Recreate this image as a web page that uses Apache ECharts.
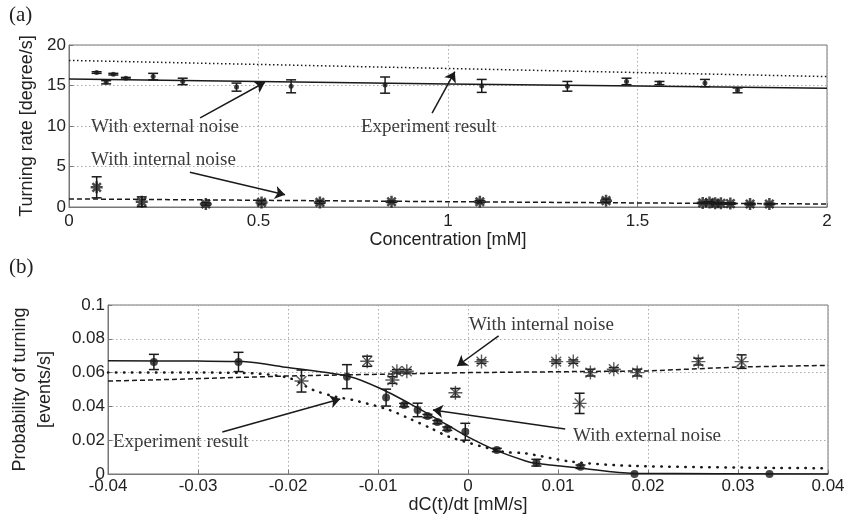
<!DOCTYPE html>
<html>
<head>
<meta charset="utf-8">
<script src="https://cdn.jsdelivr.net/npm/echarts@6/dist/echarts.min.js"></script>
<style>
html,body{margin:0;padding:0;background:#fff;}
#chart{width:858px;height:516px;}
</style>
</head>
<body>
<div id="chart"></div>
<script>

/* =================================
   panel (a) data
================================= */

// fitted / model lines
const aLineX=[0,0.5,1,1.5,2];
const aExpLine=[18.1,17.6,17.1,16.6,16.1];
const aExtLine=[15.8,15.5,15.2,14.95,14.65];
const aIntLine=[1.0,0.83,0.66,0.5,0.37];

// points with external noise
const aExtX=[0.073,0.098,0.117,0.150,0.222,0.300,0.442,0.586,0.834,1.089,1.315,1.471,1.558,1.678,1.764];
const aExtY=[16.6,15.4,16.4,15.9,16.1,15.5,14.8,14.9,15.05,14.95,14.9,15.5,15.3,15.3,14.4];
const aExtErr=[0.1,0.2,0.1,0.1,0.4,0.4,0.5,0.8,1.0,0.8,0.6,0.4,0.2,0.45,0.3];

// points with internal noise
const aIntX=[0.073,0.192,0.361,0.508,0.662,0.851,1.084,1.417,1.672,1.690,1.705,1.720,1.745,1.797,1.848];
const aIntY=[2.43,0.65,0.37,0.57,0.57,0.65,0.65,0.78,0.5,0.55,0.45,0.45,0.42,0.37,0.37];
const aIntErr=[1.3,0.6,0.15,0.2,0.15,0.1,0.15,0.2,0.1,0.1,0.1,0.1,0.1,0.1,0.1];


/* =================================
   panel (b) data
================================= */

const bExtLineX=[-0.04,-0.03,-0.025,-0.02,-0.0131,-0.0095,-0.0059,-0.0023,0,0.0032,0.0064,0.0075,0.0126,0.0184,0.04];
const bExtLineY=[0.067,0.0668,0.0665,0.063,0.0576,0.050,0.040,0.029,0.022,0.0138,0.0077,0.0063,0.0034,0.0004,0];

const bExpLineX=[-0.04,-0.03,-0.025,-0.02,-0.0172,-0.0146,-0.0128,-0.0088,-0.0066,-0.0041,-0.0021,0.0039,0.0064,0.0115,0.0187,0.04];
const bExpLineY=[0.060,0.060,0.0598,0.057,0.0497,0.0456,0.0438,0.038,0.033,0.027,0.022,0.0132,0.0122,0.0073,0.0047,0.0034];

const bIntLineX=[-0.04,-0.036,-0.02,-0.01,0,0.02,0.03,0.04];
const bIntLineY=[0.055,0.0555,0.058,0.059,0.060,0.061,0.0633,0.0643];

// experiment points
const bExpX=[-0.0349,-0.0255,-0.01345,-0.0091,-0.0071,-0.0056,-0.0045,-0.0034,-0.0023,-0.0003,0.0032,0.0076,0.0125,0.0185,0.0335];
const bExpY=[0.0663,0.0663,0.0576,0.0452,0.0408,0.0379,0.0343,0.0307,0.0268,0.025,0.0142,0.0067,0.0043,0,0];
const bExpErr=[0.0045,0.0057,0.0071,0.005,0.001,0.004,0.001,0.001,0.001,0.005,0.001,0.002,0.001,0,0];

// internal noise points
const bIntX=[-0.0185,-0.0112,-0.0084,-0.0079,-0.0068,-0.0014,0.0015,0.0098,0.0117,0.0124,0.0136,0.0162,0.0188,0.0256,0.0304];
const bIntY=[0.055,0.0667,0.0556,0.0608,0.0608,0.0481,0.0665,0.0665,0.0665,0.0418,0.060,0.062,0.060,0.0665,0.0665];
const bIntErr=[0.0065,0.003,0.002,0.001,0.001,0.0025,0.001,0.001,0.001,0.006,0.002,0.001,0.002,0.002,0.004];


/* =================================
   helpers
================================= */

const ink="#1a1a1a";
const star="path://M5,0L5,10M0,5L10,5M1.5,1.5L8.5,8.5M8.5,1.5L1.5,8.5";

function pairs(xs,ys){
return xs.map((x,i)=>[x,ys[i]]);
}

function triples(xs,ys,es){
return xs.map((x,i)=>[x,ys[i],es[i]]);
}

function errBars(data,ax){

return {
type:"custom",
xAxisIndex:ax,
yAxisIndex:ax,
z:3,
silent:true,
data:data,
renderItem:(params,api)=>{

let x=api.value(0),y=api.value(1),e=api.value(2);

if(!(e>0)) return;

let top=api.coord([x,y+e]);
let bot=api.coord([x,y-e]);
let st={stroke:ink,lineWidth:1.5};

return {
type:"group",
children:[
{type:"line",shape:{x1:top[0],y1:top[1],x2:bot[0],y2:bot[1]},style:st},
{type:"line",shape:{x1:top[0]-5,y1:top[1],x2:top[0]+5,y2:top[1]},style:st},
{type:"line",shape:{x1:bot[0]-5,y1:bot[1],x2:bot[0]+5,y2:bot[1]},style:st}
]
};

}
};

}

function arrow(x1,y1,x2,y2){
return [{coord:[x1,y1]},{coord:[x2,y2]}];
}

function note(txt,left,top){
return {
type:"text",
left:left,
top:top,
style:{text:txt,font:"19px 'Liberation Serif'",fill:"#3a3a3a"}
};
}

const tickText={fontFamily:"Liberation Sans",fontSize:17,color:"#222"};
const gridLine={show:true,lineStyle:{color:"#aaa",type:[1.5,2.5],width:1}};
const axisLine={show:true,onZero:false,lineStyle:{color:"#777",width:1}};
const tick={show:true,inside:true,length:4,lineStyle:{color:"#777"}};
const nameText={fontFamily:"Liberation Sans",fontSize:18,color:"#222"};


/* =================================
   chart
================================= */

let chart=echarts.init(document.getElementById("chart"));

chart.setOption({

animation:false,

backgroundColor:"#fff",

grid:[
{left:69,top:45,width:758,height:162,show:true,borderColor:"#777",borderWidth:1},
{left:93,top:305,width:735,height:169,show:true,borderColor:"#777",borderWidth:1}
],

xAxis:[
{
type:"value",gridIndex:0,min:0,max:2,interval:0.5,
name:"Concentration [mM]",nameLocation:"middle",nameGap:23,
nameTextStyle:nameText,
axisLabel:{...tickText,margin:6},
axisLine:axisLine,axisTick:tick,splitLine:gridLine
},
{
type:"value",gridIndex:1,min:-0.04,max:0.04,interval:0.01,
name:"dC(t)/dt [mM/s]",nameLocation:"middle",nameGap:22,
nameTextStyle:nameText,
axisLabel:{...tickText,margin:4},
axisLine:axisLine,axisTick:tick,splitLine:gridLine
}
],

yAxis:[
{
type:"value",gridIndex:0,min:0,max:20,interval:5,
name:"Turning rate [degree/s]",nameLocation:"middle",nameGap:33,
nameTextStyle:nameText,
axisLabel:{...tickText,margin:3},
axisLine:axisLine,axisTick:tick,splitLine:gridLine
},
{
type:"value",gridIndex:1,min:0,max:0.1,interval:0.02,
name:"Probability of turning\n[events/s]",nameLocation:"middle",nameGap:50,
nameTextStyle:{...nameText,lineHeight:25},
axisLabel:{...tickText,margin:3},
axisLine:axisLine,axisTick:tick,splitLine:gridLine
}
],

graphic:[
{type:"text",left:9,top:5,style:{text:"(a)",font:"21px 'Liberation Serif'",fill:"#222"}},
{type:"text",left:9,top:257,style:{text:"(b)",font:"21px 'Liberation Serif'",fill:"#222"}},
note("With external noise",91,118),
note("Experiment result",361,118),
note("With internal noise",91,151),
note("With internal noise",469,316),
note("Experiment result",113,433),
note("With external noise",573,427)
],

series:[

/* ---- panel (a) ---- */

{
type:"line",xAxisIndex:0,yAxisIndex:0,
data:pairs(aLineX,aExpLine),
showSymbol:false,
lineStyle:{color:ink,width:1.5,type:[1.5,2.5]},
z:2
},

{
type:"line",xAxisIndex:0,yAxisIndex:0,
data:pairs(aLineX,aExtLine),
showSymbol:false,
lineStyle:{color:ink,width:1.5},
z:2,
markLine:{
silent:true,
symbol:["none","arrow"],
symbolSize:10,
label:{show:false},
lineStyle:{color:ink,width:1.5,type:"solid"},
data:[
arrow(0.346,11.0,0.517,15.4),
arrow(0.958,11.6,1.018,16.7),
arrow(0.319,4.3,0.570,1.5)
]
}
},

{
type:"line",xAxisIndex:0,yAxisIndex:0,
data:pairs(aLineX,aIntLine),
showSymbol:false,
lineStyle:{color:ink,width:1.5,type:[5,3]},
z:2
},

errBars(triples(aExtX,aExtY,aExtErr),0),

errBars(triples(aIntX,aIntY,aIntErr),0),

{
type:"scatter",xAxisIndex:0,yAxisIndex:0,
data:pairs(aExtX,aExtY),
symbol:"circle",symbolSize:5,
itemStyle:{color:ink},
z:4
},

{
type:"scatter",xAxisIndex:0,yAxisIndex:0,
data:pairs(aIntX,aIntY),
symbol:star,symbolSize:12,
itemStyle:{color:"none",borderColor:ink,borderWidth:2.5},
z:4
},

/* ---- panel (b) ---- */

{
type:"line",xAxisIndex:1,yAxisIndex:1,
data:pairs(bExpLineX,bExpLineY),
showSymbol:false,smooth:0.3,
lineStyle:{color:ink,width:2.5,type:[0.5,7.5],cap:"round"},
z:2
},

{
type:"line",xAxisIndex:1,yAxisIndex:1,
data:pairs(bExtLineX,bExtLineY),
showSymbol:false,smooth:0.3,
lineStyle:{color:ink,width:1.5},
z:2,
markLine:{
silent:true,
symbol:["none","arrow"],
symbolSize:10,
label:{show:false},
lineStyle:{color:ink,width:1.5,type:"solid"},
data:[
arrow(0.0034,0.0817,-0.0012,0.0639),
arrow(-0.0273,0.0249,-0.0142,0.0444),
arrow(0.0108,0.0266,-0.0039,0.0379)
]
}
},

{
type:"line",xAxisIndex:1,yAxisIndex:1,
data:pairs(bIntLineX,bIntLineY),
showSymbol:false,
lineStyle:{color:ink,width:1.5,type:[5,3]},
z:2
},

errBars(triples(bExpX,bExpY,bExpErr),1),

errBars(triples(bIntX,bIntY,bIntErr),1),

{
type:"scatter",xAxisIndex:1,yAxisIndex:1,
data:pairs(bExpX,bExpY),
symbol:"circle",symbolSize:8,
itemStyle:{color:ink},
z:4
},

{
type:"scatter",xAxisIndex:1,yAxisIndex:1,
data:pairs(bIntX,bIntY),
symbol:star,symbolSize:14,
itemStyle:{color:"none",borderColor:"#333",borderWidth:1.4},
z:4
}

]

});

</script>
</body>
</html>
